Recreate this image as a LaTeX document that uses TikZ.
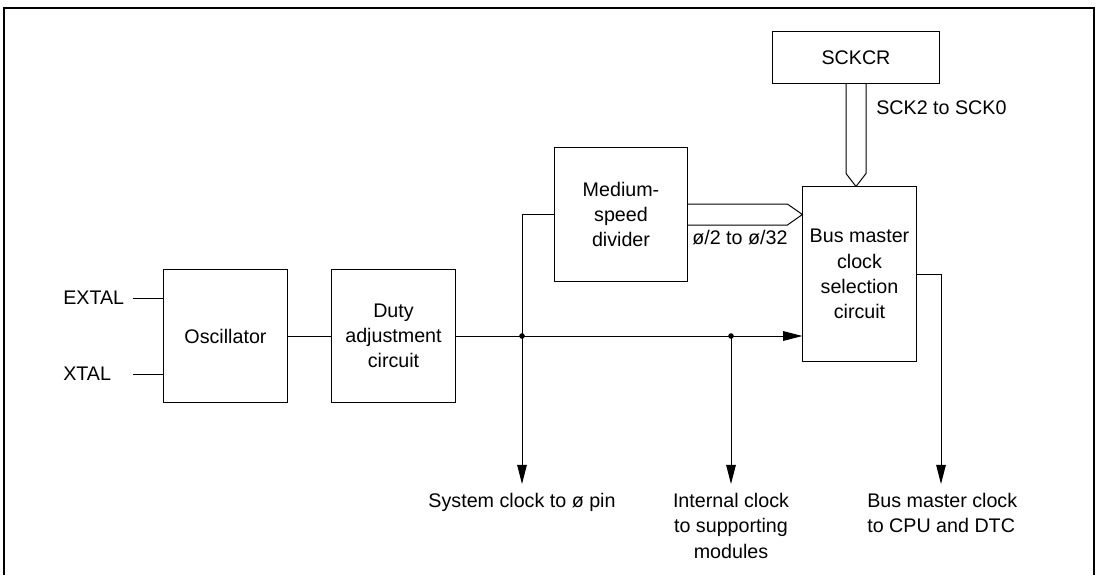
\documentclass[tikz,border=0pt]{standalone}
\usepackage{fontspec}
\setmainfont{Liberation Sans}
\usetikzlibrary{arrows.meta,calc,positioning}
\begin{document}
\begin{tikzpicture}[x=0.025cm,y=-0.025cm,>={Triangle[length=0.48cm,width=0.24cm]},
  font=\fontsize{14}{18}\selectfont,
  block/.style={draw,line width=.7pt,align=center,inner sep=0pt},
  flow/.style={->,line width=.7pt},
  wire/.style={line width=.7pt},
  bus/.style={line width=.7pt,line join=miter},
  lbl/.style={align=center,inner sep=0pt}]
\useasboundingbox (0,0) rectangle (1098,575);
\draw[line width=.9pt] (4,575)--(4,8)--(1094,8)--(1094,575);
\node[block,minimum width=3.08cm,minimum height=3.33cm] (osc) at (225.5,336) {Oscillator};
\node[block,minimum width=3.08cm,minimum height=3.33cm] (duty) at (393.5,336)
  {Duty\\adjustment\\circuit};
\node[block,minimum width=3.3cm,minimum height=3.33cm] (div) at (621,214.5)
  {Medium-\\speed\\divider};
\node[block,minimum width=2.83cm,minimum height=4.35cm] (bmc) at (859.5,274)
  {Bus master\\clock\\selection\\circuit};
\node[block,minimum width=4.15cm,minimum height=1.28cm] (sckcr) at (856,57.5) {SCKCR};
\node[lbl,anchor=west] (extal) at (63,298) {EXTAL};
\node[lbl,anchor=west] (xtal) at (63,374) {XTAL};
\coordinate (exin) at (133,298);
\coordinate (xin) at (133,374);
\draw[wire] (exin)--(exin-|osc.west);
\draw[wire] (xin)--(xin-|osc.west);
\draw[wire] (osc.east)--(duty.east-|duty.west);
\coordinate (j1) at (522,336);
\coordinate (j2) at (731,336);
\coordinate (out1) at (522,484);
\coordinate (out2) at (731,484);
\coordinate (out3) at (941,484);
\draw[flow] (duty.east)--(duty.east-|bmc.west);
\draw[flow] (div.west)-|(out1);
\draw[flow] (j2)--(out2);
\draw[flow] (bmc.east)-|(out3);
\fill (j1) circle (2pt);
\fill (j2) circle (2pt);
\draw[bus] ($(sckcr.south)+(-10,0)$)--($(sckcr.south|-bmc.north)+(-10,-13)$)
  --(sckcr.south|-bmc.north)--($(sckcr.south|-bmc.north)+(10,-13)$)
  --($(sckcr.south)+(10,0)$);
\draw[bus] ($(div.east)+(0,-10.5)$)--($(div.east-|bmc.west)+(-15,-10.5)$)
  --(div.east-|bmc.west)--($(div.east-|bmc.west)+(-15,10.5)$)
  --($(div.east)+(0,10.5)$);
\node[lbl,anchor=west] (sck) at (876,108) {SCK2 to SCK0};
\node[lbl,anchor=west] (phi) at (692,238) {ø/2 to ø/32};
\node[lbl,anchor=north] (sys) at (out1|-0,493) {System clock to ø pin};
\node[lbl,anchor=north] (int) at (out2|-0,493) {Internal clock\\to supporting\\modules};
\node[lbl,anchor=north west,align=left] (cpu) at (867,493) {Bus master clock\\to CPU and DTC};
\end{tikzpicture}
\end{document}
